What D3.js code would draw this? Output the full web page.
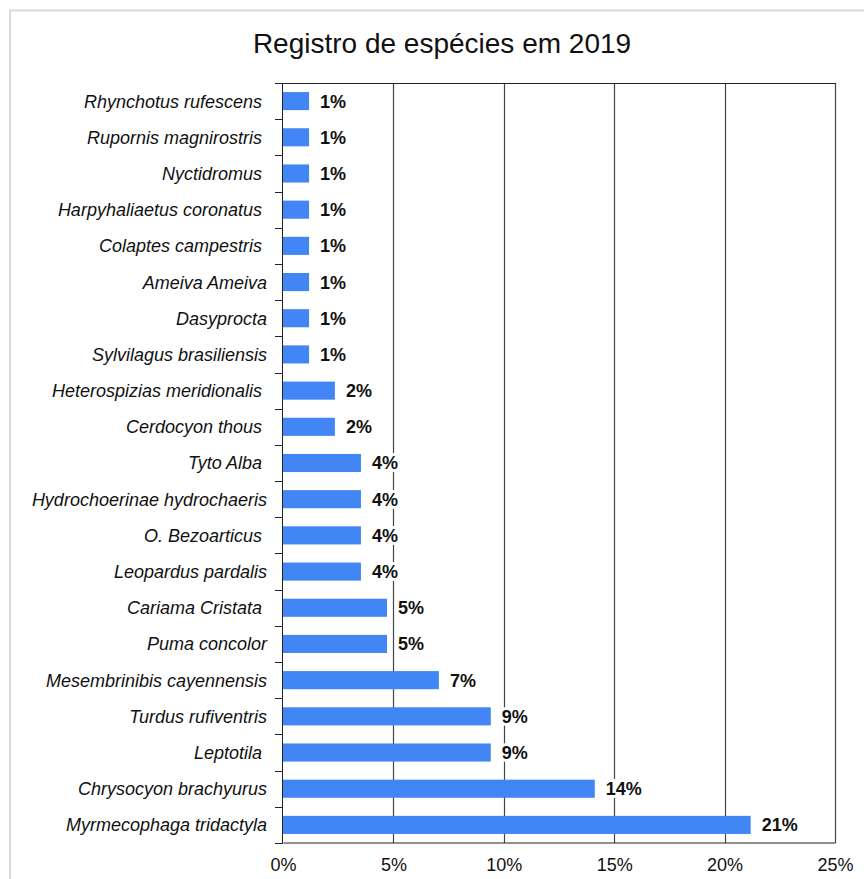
<!DOCTYPE html>
<html>
<head>
<meta charset="utf-8">
<script src="https://cdn.jsdelivr.net/npm/d3@7"></script>
<style>
  body { margin: 0; background: #fff; }
  text { font-family: "Liberation Sans", Arial, sans-serif; }
</style>
</head>
<body>
<svg id="chart" width="864" height="879"></svg>
<script>
'use strict';

// some names keep the trailing space they had in the source sheet
const species = [
  'Rhynchotus rufescens ', 'Rupornis magnirostris ', 'Nyctidromus ',
  'Harpyhaliaetus coronatus ', 'Colaptes campestris ', 'Ameiva Ameiva',
  'Dasyprocta', 'Sylvilagus brasiliensis', 'Heterospizias meridionalis ',
  'Cerdocyon thous ', 'Tyto Alba ', 'Hydrochoerinae hydrochaeris',
  'O. Bezoarticus ', 'Leopardus pardalis', 'Cariama Cristata ',
  'Puma concolor', 'Mesembrinibis cayennensis', 'Turdus rufiventris',
  'Leptotila ', 'Chrysocyon brachyurus', 'Myrmecophaga tridactyla'
];

const shares = [
  1.18, 1.18, 1.18, 1.18, 1.18, 1.18, 1.18, 1.18,
  2.35, 2.35, 3.53, 3.53, 3.53, 3.53, 4.71, 4.71,
  7.06, 9.41, 9.41, 14.12, 21.18
];

const labels = [
  '1%', '1%', '1%', '1%', '1%', '1%', '1%', '1%',
  '2%', '2%', '4%', '4%', '4%', '4%', '5%', '5%',
  '7%', '9%', '9%', '14%', '21%'
];

const ticks = [0, 5, 10, 15, 20, 25];

const rows = species.map((name, i) => ({ name, value: shares[i], label: labels[i] }));

const svg = d3.select('#chart');
const margin = { top: 83, right: 29, bottom: 36, left: 283 };
const width = 864, height = 879;

// outer frame
svg.append('rect')
  .attr('x', 10).attr('y', 10.5)
  .attr('width', 900).attr('height', 900)
  .attr('fill', '#fff')
  .attr('stroke', '#d9d9d9')
  .attr('stroke-width', 2);

svg.append('text')
  .attr('x', 442).attr('y', 53)
  .attr('text-anchor', 'middle')
  .style('font-size', '28px')
  .attr('fill', '#111')
  .text('Registro de espécies em 2019');

const x = d3.scaleLinear()
  .domain([0, 25])
  .range([margin.left, width - margin.right]);

const y = d3.scaleBand()
  .domain(species)
  .range([margin.top, height - margin.bottom])
  .paddingInner(0.5)
  .paddingOuter(0.25);

// gridlines
svg.append('g')
  .selectAll('line')
  .data(ticks.slice(1))
  .enter().append('line')
  .attr('x1', d => Math.round(x(d)) + 0.5)
  .attr('x2', d => Math.round(x(d)) + 0.5)
  .attr('y1', margin.top)
  .attr('y2', height - margin.bottom)
  .attr('stroke', '#444')
  .attr('stroke-width', 1.2);

// top frame line
svg.append('line')
  .attr('x1', margin.left).attr('x2', width - margin.right + 0.5)
  .attr('y1', margin.top + 0.5).attr('y2', margin.top + 0.5)
  .attr('stroke', '#222');

svg.append('g')
  .selectAll('rect')
  .data(rows)
  .enter().append('rect')
  .attr('x', x(0))
  .attr('y', d => y(d.name))
  .attr('width', d => x(d.value) - x(0))
  .attr('height', y.bandwidth())
  .attr('fill', '#4285f4');

svg.append('g')
  .selectAll('text')
  .data(rows)
  .enter().append('text')
  .attr('x', d => x(d.value) + 11)
  .attr('y', d => y(d.name) + y.bandwidth() / 2)
  .attr('dy', '0.36em')
  .style('font-size', '18px')
  .style('font-weight', 'bold')
  .attr('fill', '#111')
  .attr('stroke', '#fff')
  .attr('stroke-width', 6)
  .attr('paint-order', 'stroke')
  .text(d => d.label);

// category labels and ticks between rows
const step = y.step();
const yLeft = svg.append('g');
yLeft.append('line')
  .attr('x1', margin.left - 0.5).attr('x2', margin.left - 0.5)
  .attr('y1', margin.top).attr('y2', height - margin.bottom)
  .attr('stroke', '#222');

yLeft.selectAll('line.tick')
  .data(d3.range(species.length + 1))
  .enter().append('line')
  .attr('class', 'tick')
  .attr('x1', margin.left - 8).attr('x2', margin.left)
  .attr('y1', i => Math.round(margin.top + i * step) + 0.5)
  .attr('y2', i => Math.round(margin.top + i * step) + 0.5)
  .attr('stroke', '#222');

yLeft.selectAll('text')
  .data(species)
  .enter().append('text')
  .attr('x', margin.left - 16)
  .attr('y', d => y(d) + y.bandwidth() / 2)
  .attr('dy', '0.36em')
  .attr('text-anchor', 'end')
  .style('white-space', 'pre')
  .style('font-size', '18px')
  .style('font-style', 'italic')
  .attr('fill', '#111')
  .text(d => d);

// bottom axis
const xAxis = svg.append('g')
  .attr('transform', `translate(0,${height - margin.bottom - 0.5})`)
  .call(d3.axisBottom(x).tickValues(ticks).tickSize(0).tickPadding(16).tickFormat(d => d + '%'));

xAxis.select('.domain').attr('stroke', '#222');
xAxis.selectAll('text')
  .style('font-size', '18px')
  .attr('fill', '#111')
  .style('font-family', '"Liberation Sans", Arial, sans-serif');
</script>
</body>
</html>
